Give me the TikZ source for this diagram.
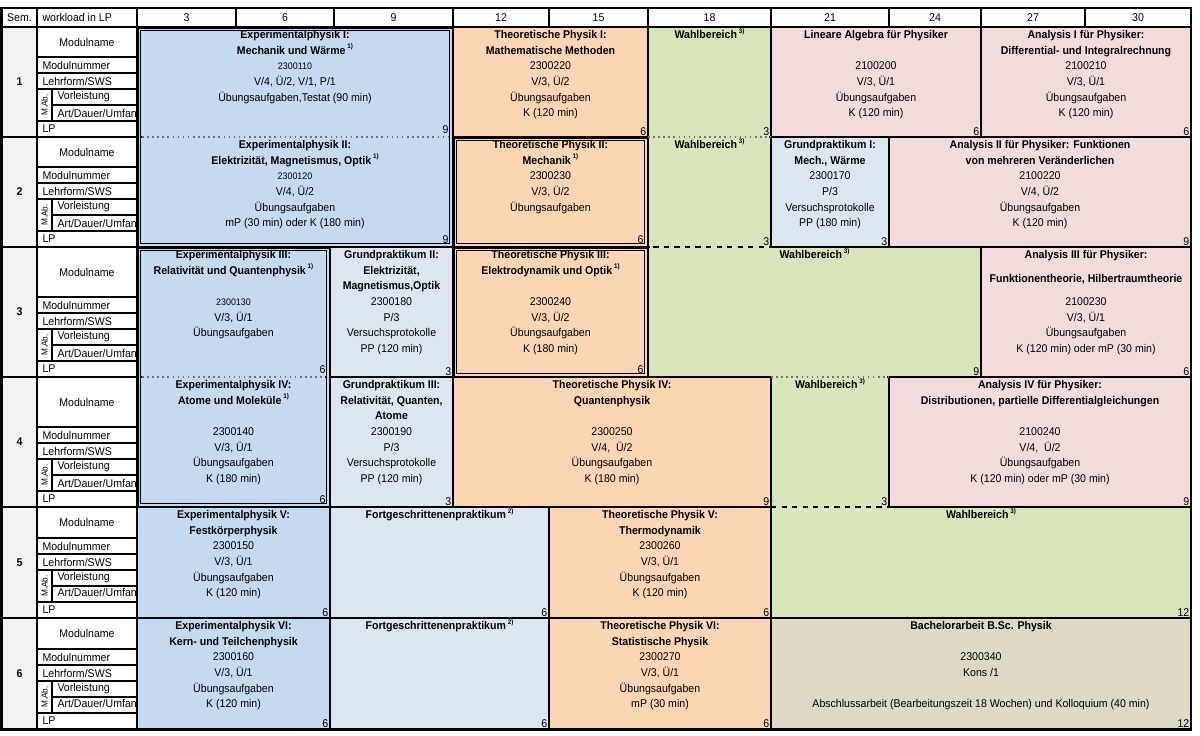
\documentclass[tikz,border=0pt]{standalone}
\usepackage{fontspec}
\setmainfont[FakeStretch=0.94]{Liberation Sans}
\usepackage{tikz}
\usetikzlibrary{positioning, fit}

\definecolor{epblau}{RGB}{197,217,241}
\definecolor{tporange}{RGB}{252,213,180}
\definecolor{wahlgruen}{RGB}{216,228,188}
\definecolor{mathrosa}{RGB}{242,220,219}
\definecolor{praktblau}{RGB}{220,230,241}
\definecolor{bagrau}{RGB}{221,217,196}
\definecolor{semgrau}{RGB}{242,242,242}

\newcommand{\schrift}{\fontsize{6.4}{8.9}\selectfont}
\newcommand{\fussnote}[1]{\,\raisebox{0.9ex}{\fontsize{3.8}{4}\selectfont\bfseries #1)}}
\newcommand{\klein}[1]{{\fontsize{5.4}{8.9}\selectfont #1}}

\tikzstyle{modul} = [rectangle, draw=black, line width=0.8pt, inner sep=0pt]
\tikzstyle{inhalt} = [align=center, inner sep=0pt]
\tikzstyle{lp} = [anchor=south east, inner sep=1.2pt]
\tikzstyle{lprahmen} = [lp, inner xsep=2.8pt, inner ysep=2.2pt]
\tikzstyle{zelle} = [rectangle, draw=black, line width=0.8pt, fill=white, inner sep=0pt]
\tikzstyle{semzelle} = [zelle, fill=semgrau]
\tikzstyle{doppelt} = [draw=black, line width=0.45pt, double distance=1pt]
\tikzstyle{abdecken} = [line width=1.4pt]
\tikzstyle{punktiert} = [draw=black!55, dotted, line width=0.9pt]
\tikzstyle{gestrichelt} = [draw=black, dashed, line width=0.9pt]
\tikzstyle{rahmen} = [draw=black, line width=1.6pt]

\begin{document}
\begin{tikzpicture}[x=0.02cm, y=-0.02cm, every node/.style={font=\schrift}]
\useasboundingbox (0,0) rectangle (1200,735);

% Kopfzeile
\node (kopfsem) [zelle, fit={(2,8) (37,27)}] {};
\node (kopfsemtxt) at (kopfsem) {Sem.};
\node (kopfwl) [zelle, fit={(37,8) (137,27)}] {};
\node (kopfwltxt) [anchor=west] at (kopfwl.west) {workload in LP};
\foreach \a/\e/\n in {137/236/3, 236/334/6, 334/453/9, 453/549/12, 549/648/15, 648/771/18, 771/889/21, 889/981/24, 981/1085/27, 1085/1191/30} {
  \node (kopf\n) [zelle, fit={(\a,8) (\e,27)}] {};
  \node (kopftxt\n) at (kopf\n) {\n};
}

% Zeilenbeschriftung je Semester
\foreach \s/\t/\b/\umf in {1/27/137/Umfan, 2/137/247/Umfan, 3/247/377/Umfan, 4/377/507/Umfan, 5/507/618/Umfang, 6/618/729/Umfang} {
  \node (sem\s) [semzelle, fit={(2,\t) (37,\b)}] {};
  \node (semtxt\s) at (sem\s) {\textbf{\s}};
  \node (name\s) [zelle, fit={(37,\t) (137,\b-80)}] {};
  \node (nametxt\s) at (name\s) {Modulname};
  \node (nr\s) [zelle, fit={(37,\b-80) (137,\b-64)}] {};
  \node (nrtxt\s) [anchor=west] at (nr\s.west) {Modulnummer};
  \node (lf\s) [zelle, fit={(37,\b-64) (137,\b-48)}] {};
  \node (lftxt\s) [anchor=west] at (lf\s.west) {Lehrform/SWS};
  \node (mab\s) [zelle, fit={(37,\b-48) (52,\b-16)}] {};
  \node (mabtxt\s) [rotate=90, font=\fontsize{5}{5}\selectfont] at (mab\s) {M.Ab.};
  \node (vl\s) [zelle, fit={(52,\b-48) (137,\b-32)}] {};
  \node (vltxt\s) [anchor=west] at (vl\s.west) {Vorleistung};
  \node (art\s) [zelle, fit={(52,\b-32) (137,\b-16)}] {};
  \node (arttxt\s) [anchor=west] at (art\s.west) {Art/Dauer/\umf};
  \node (lpz\s) [zelle, fit={(37,\b-16) (137,\b)}] {};
  \node (lpztxt\s) [anchor=west] at (lpz\s.west) {LP};
}

% Modulfelder
\node (ep1) [modul, fill=epblau, fit={(137,27) (453,137)}] {};
\node (tp1) [modul, fill=tporange, fit={(453,27) (648,137)}] {};
\node (wb1) [modul, fill=wahlgruen, fit={(648,27) (771,137)}] {};
\node (la) [modul, fill=mathrosa, fit={(771,27) (981,137)}] {};
\node (an1) [modul, fill=mathrosa, fit={(981,27) (1191,137)}] {};
\node (ep2) [modul, fill=epblau, fit={(137,137) (453,247)}] {};
\node (tp2) [modul, fill=tporange, fit={(453,137) (648,247)}] {};
\node (wb2) [modul, fill=wahlgruen, fit={(648,137) (771,247)}] {};
\node (gp1) [modul, fill=praktblau, fit={(771,137) (889,247)}] {};
\node (an2) [modul, fill=mathrosa, fit={(889,137) (1191,247)}] {};
\node (ep3) [modul, fill=epblau, fit={(137,247) (330,377)}] {};
\node (gp2) [modul, fill=praktblau, fit={(330,247) (453,377)}] {};
\node (tp3) [modul, fill=tporange, fit={(453,247) (648,377)}] {};
\node (wb3) [modul, fill=wahlgruen, fit={(648,247) (981,377)}] {};
\node (an3) [modul, fill=mathrosa, fit={(981,247) (1191,377)}] {};
\node (ep4) [modul, fill=epblau, fit={(137,377) (330,507)}] {};
\node (gp3) [modul, fill=praktblau, fit={(330,377) (453,507)}] {};
\node (tp4) [modul, fill=tporange, fit={(453,377) (771,507)}] {};
\node (wb4) [modul, fill=wahlgruen, fit={(771,377) (889,507)}] {};
\node (an4) [modul, fill=mathrosa, fit={(889,377) (1191,507)}] {};
\node (ep5) [modul, fill=epblau, fit={(137,507) (330,618)}] {};
\node (fp5) [modul, fill=praktblau, fit={(330,507) (549,618)}] {};
\node (tp5) [modul, fill=tporange, fit={(549,507) (771,618)}] {};
\node (wb5) [modul, fill=wahlgruen, fit={(771,507) (1191,618)}] {};
\node (ep6) [modul, fill=epblau, fit={(137,618) (330,729)}] {};
\node (fp6) [modul, fill=praktblau, fit={(330,618) (549,729)}] {};
\node (tp6) [modul, fill=tporange, fit={(549,618) (771,729)}] {};
\node (ba) [modul, fill=bagrau, fit={(771,618) (1191,729)}] {};

% Doppelrahmen
\draw [doppelt, double=epblau] (139.5,29.5) rectangle (451,245);
\draw [doppelt, double=tporange] (455.5,139.5) rectangle (646,245);
\draw [doppelt, double=tporange] (455.5,249.5) rectangle (646,375);
\draw [doppelt, double=epblau] (139.5,249.5) rectangle (328,505);

% durchgehende Module
\draw [abdecken, epblau] (142,137) -- (448,137);
\draw [punktiert] (142,137) -- (448,137);
\draw [abdecken, wahlgruen] (650,137) -- (769,137);
\draw [punktiert] (648,137) -- (771,137);
\draw [abdecken, wahlgruen] (650,247) -- (769,247);
\draw [gestrichelt] (453,247) -- (771,247);
\draw [abdecken, epblau] (142,377) -- (325,377);
\draw [punktiert] (142,377) -- (325,377);
\draw [abdecken, wahlgruen] (773,377) -- (887,377);
\draw [punktiert] (771,377) -- (889,377);
\draw [abdecken, wahlgruen] (773,507) -- (887,507);
\draw [gestrichelt] (771,507) -- (889,507);

% 1. Semester
\node (ep1txt) [inhalt, below=0.5pt of ep1.north] {\strut\textbf{Experimentalphysik I:}\\\textbf{Mechanik und Wärme}\fussnote{1}\\\klein{2300110}\\V/4, Ü/2, V/1, P/1\\Übungsaufgaben,Testat (90 min)};
\node (ep1lp) [lprahmen] at (ep1.south east) {9};
\node (tp1txt) [inhalt, below=0.5pt of tp1.north] {\strut\textbf{Theoretische Physik I:}\\\textbf{Mathematische Methoden}\\2300220\\V/3, Ü/2\\Übungsaufgaben\\K (120 min)};
\node (tp1lp) [lp] at (tp1.south east) {6};
\node (wb1txt) [inhalt, below=0.5pt of wb1.north] {\strut\textbf{Wahlbereich}\fussnote{3}};
\node (wb1lp) [lp] at (wb1.south east) {3};
\node (latxt) [inhalt, below=0.5pt of la.north] {\strut\textbf{Lineare Algebra für Physiker}\\ \\2100200\\V/3, Ü/1\\Übungsaufgaben\\K (120 min)};
\node (lalp) [lp] at (la.south east) {6};
\node (an1txt) [inhalt, below=0.5pt of an1.north] {\strut\textbf{Analysis I für Physiker:}\\\textbf{Differential- und Integralrechnung}\\2100210\\V/3, Ü/1\\Übungsaufgaben\\K (120 min)};
\node (an1lp) [lp] at (an1.south east) {6};

% 2. Semester
\node (ep2txt) [inhalt, below=0.5pt of ep2.north] {\strut\textbf{Experimentalphysik II:}\\\textbf{Elektrizität, Magnetismus, Optik}\fussnote{1}\\\klein{2300120}\\V/4, Ü/2\\Übungsaufgaben\\mP (30 min) oder K (180 min)};
\node (ep2lp) [lprahmen] at (ep2.south east) {9};
\node (tp2txt) [inhalt, below=0.5pt of tp2.north] {\strut\textbf{Theoretische Physik II:}\\\textbf{Mechanik}\fussnote{1}\\2300230\\V/3, Ü/2\\Übungsaufgaben};
\node (tp2lp) [lprahmen] at (tp2.south east) {6};
\node (wb2txt) [inhalt, below=0.5pt of wb2.north] {\strut\textbf{Wahlbereich}\fussnote{3}};
\node (wb2lp) [lp] at (wb2.south east) {3};
\node (gp1txt) [inhalt, below=0.5pt of gp1.north] {\strut\textbf{Grundpraktikum I:}\\\textbf{Mech., Wärme}\\2300170\\P/3\\Versuchsprotokolle\\PP (180 min)};
\node (gp1lp) [lp] at (gp1.south east) {3};
\node (an2txt) [inhalt, below=0.5pt of an2.north] {\strut\textbf{Analysis II für Physiker: Funktionen}\\\textbf{von mehreren Veränderlichen}\\2100220\\V/4, Ü/2\\Übungsaufgaben\\K (120 min)};
\node (an2lp) [lp] at (an2.south east) {9};

% 3. Semester
\node (ep3txt) [inhalt, below=0.5pt of ep3.north] {\strut\textbf{Experimentalphysik III:}\\\textbf{Relativität und Quantenphysik}\fussnote{1}\\ \\\klein{2300130}\\V/3, Ü/1\\Übungsaufgaben};
\node (ep3lp) [lprahmen] at (ep3.south east) {6};
\node (gp2txt) [inhalt, below=0.5pt of gp2.north] {\strut\textbf{Grundpraktikum II:}\\\textbf{Elektrizität,}\\\textbf{Magnetismus,Optik}\\2300180\\P/3\\Versuchsprotokolle\\PP (120 min)};
\node (gp2lp) [lp] at (gp2.south east) {3};
\node (tp3txt) [inhalt, below=0.5pt of tp3.north] {\strut\textbf{Theoretische Physik III:}\\\textbf{Elektrodynamik und Optik}\fussnote{1}\\ \\2300240\\V/3, Ü/2\\Übungsaufgaben\\K (180 min)};
\node (tp3lp) [lprahmen] at (tp3.south east) {6};
\node (wb3txt) [inhalt, below=0.5pt of wb3.north] {\strut\textbf{Wahlbereich}\fussnote{3}};
\node (wb3lp) [lp] at (wb3.south east) {9};
\node (an3txt) [inhalt, below=0.5pt of an3.north] {\strut\textbf{Analysis III für Physiker:}\\[5pt]\textbf{Funktionentheorie, Hilbertraumtheorie}\\[4pt]2100230\\V/3, Ü/1\\Übungsaufgaben\\K (120 min) oder mP (30 min)};
\node (an3lp) [lp] at (an3.south east) {6};

% 4. Semester
\node (ep4txt) [inhalt, below=0.5pt of ep4.north] {\strut\textbf{Experimentalphysik IV:}\\\textbf{Atome und Moleküle}\fussnote{1}\\ \\2300140\\V/3, Ü/1\\Übungsaufgaben\\K (180 min)};
\node (ep4lp) [lprahmen] at (ep4.south east) {6};
\node (gp3txt) [inhalt, below=0.5pt of gp3.north] {\strut\textbf{Grundpraktikum III:}\\\textbf{Relativität, Quanten,}\\\textbf{Atome}\\2300190\\P/3\\Versuchsprotokolle\\PP (120 min)};
\node (gp3lp) [lp] at (gp3.south east) {3};
\node (tp4txt) [inhalt, below=0.5pt of tp4.north] {\strut\textbf{Theoretische Physik IV:}\\\textbf{Quantenphysik}\\ \\2300250\\V/4,~~Ü/2\\Übungsaufgaben\\K (180 min)};
\node (tp4lp) [lp] at (tp4.south east) {9};
\node (wb4txt) [inhalt, below=0.5pt of wb4.north] {\strut\textbf{Wahlbereich}\fussnote{3}};
\node (wb4lp) [lp] at (wb4.south east) {3};
\node (an4txt) [inhalt, below=0.5pt of an4.north] {\strut\textbf{Analysis IV für Physiker:}\\\textbf{Distributionen, partielle Differentialgleichungen}\\ \\2100240\\V/4,~~Ü/2\\Übungsaufgaben\\K (120 min) oder mP (30 min)};
\node (an4lp) [lp] at (an4.south east) {9};

% 5. Semester
\node (ep5txt) [inhalt, below=0.5pt of ep5.north] {\strut\textbf{Experimentalphysik V:}\\\textbf{Festkörperphysik}\\2300150\\V/3, Ü/1\\Übungsaufgaben\\K (120 min)};
\node (ep5lp) [lp] at (ep5.south east) {6};
\node (fp5txt) [inhalt, below=0.5pt of fp5.north] {\strut\textbf{Fortgeschrittenenpraktikum}\fussnote{2}};
\node (fp5lp) [lp] at (fp5.south east) {6};
\node (tp5txt) [inhalt, below=0.5pt of tp5.north] {\strut\textbf{Theoretische Physik V:}\\\textbf{Thermodynamik}\\2300260\\V/3, Ü/1\\Übungsaufgaben\\K (120 min)};
\node (tp5lp) [lp] at (tp5.south east) {6};
\node (wb5txt) [inhalt, below=0.5pt of wb5.north] {\strut\textbf{Wahlbereich}\fussnote{3}};
\node (wb5lp) [lp] at (wb5.south east) {12};

% 6. Semester
\node (ep6txt) [inhalt, below=0.5pt of ep6.north] {\strut\textbf{Experimentalphysik VI:}\\\textbf{Kern- und Teilchenphysik}\\2300160\\V/3, Ü/1\\Übungsaufgaben\\K (120 min)};
\node (ep6lp) [lp] at (ep6.south east) {6};
\node (fp6txt) [inhalt, below=0.5pt of fp6.north] {\strut\textbf{Fortgeschrittenenpraktikum}\fussnote{2}};
\node (fp6lp) [lp] at (fp6.south east) {6};
\node (tp6txt) [inhalt, below=0.5pt of tp6.north] {\strut\textbf{Theoretische Physik VI:}\\\textbf{Statistische Physik}\\2300270\\V/3, Ü/1\\Übungsaufgaben\\mP (30 min)};
\node (tp6lp) [lp] at (tp6.south east) {6};
\node (batxt) [inhalt, below=0.5pt of ba.north] {\strut\textbf{Bachelorarbeit B.Sc. Physik}\\ \\2300340\\Kons /1\\ \\Abschlussarbeit (Bearbeitungszeit 18 Wochen) und Kolloquium (40 min)};
\node (balp) [lp] at (ba.south east) {12};

% Aussenrahmen
\draw [rahmen] (1.5,8) rectangle (1191,729.5);
\draw [rahmen] (1.5,27) -- (1191,27);
\end{tikzpicture}
\end{document}
